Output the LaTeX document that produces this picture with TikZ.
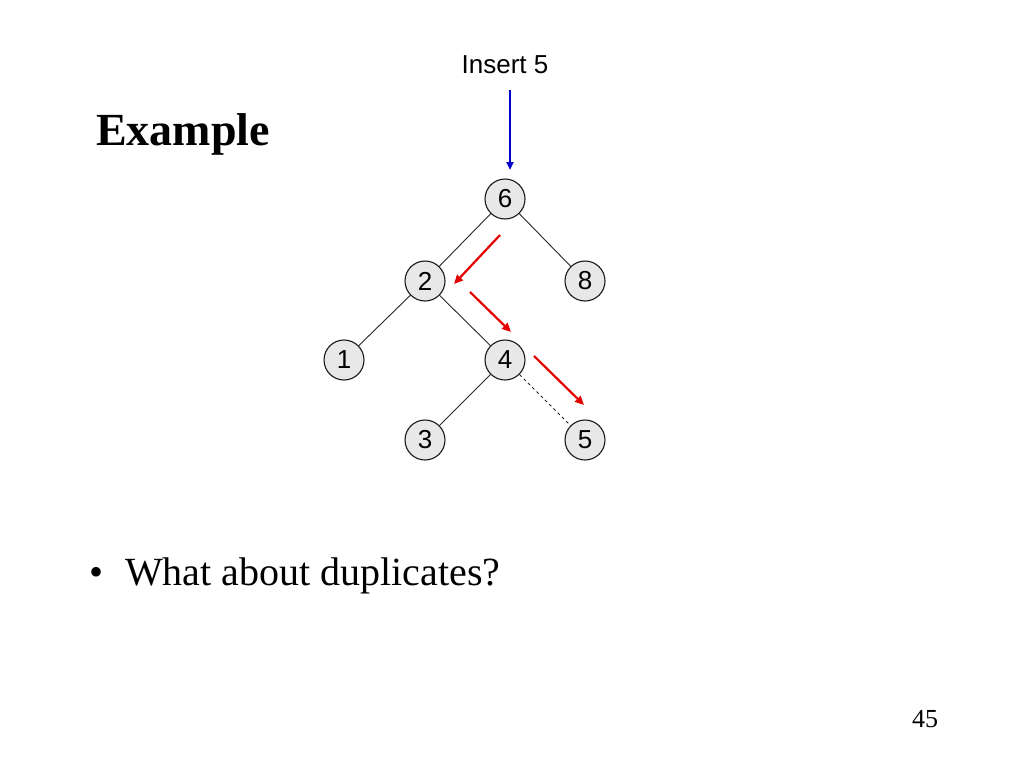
\documentclass[tikz,border=0pt]{standalone}
\usepackage{fontspec}
\setmainfont{Liberation Serif}
\newfontfamily\arial{Liberation Sans}
\usetikzlibrary{arrows.meta}
\begin{document}
\begin{tikzpicture}[x=1pt,y=-1pt,
  tnode/.style={circle,draw=black!90,fill=black!9,line width=1.1pt,minimum size=40pt,inner sep=0pt,font=\arial\fontsize{26}{28}\selectfont},
  tedge/.style={line width=0.9pt,draw=black!85},
  redarrow/.style={draw=red!90!black,line width=2.2pt,-{Triangle[length=9pt,width=8pt]}},
  bluearrow/.style={draw=blue!80!black,line width=2pt,-{Triangle[length=8pt,width=7pt]}}
]
\useasboundingbox (0,0) rectangle (1024,768);
\node (n6) [tnode] at (505,199) {6};
\node (n2) [tnode] at (425,281) {2};
\node (n8) [tnode] at (585,281) {8};
\node (n1) [tnode] at (344,360) {1};
\node (n4) [tnode] at (505,360) {4};
\node (n3) [tnode] at (425,440) {3};
\node (n5) [tnode] at (585,440) {5};
\draw[tedge] (n6) -- (n2);
\draw[tedge] (n6) -- (n8);
\draw[tedge] (n2) -- (n1);
\draw[tedge] (n2) -- (n4);
\draw[tedge] (n4) -- (n3);
\draw[tedge,dashed] (n4) -- (n5);
\node (ins) [font=\arial\fontsize{26}{28}\selectfont] at (505,65) {Insert 5};
\coordinate (b1) at (510,90);
\coordinate (b2) at (510,170);
\draw[bluearrow] (b1) -- (b2);
\coordinate (r1a) at (500,235);
\coordinate (r1b) at (454,284);
\coordinate (r2a) at (470,292);
\coordinate (r2b) at (511,332);
\coordinate (r3a) at (534,356);
\coordinate (r3b) at (584,405);
\draw[redarrow] (r1a) -- (r1b);
\draw[redarrow] (r2a) -- (r2b);
\draw[redarrow] (r3a) -- (r3b);
\node (title) [anchor=base west,inner sep=0pt,font=\bfseries\fontsize{46}{50}\selectfont] at (96,145) {Example};
\node (bul) [anchor=base west,inner sep=0pt,font=\fontsize{40}{44}\selectfont] at (89,585) {\textbullet};
\node (dup) [anchor=base west,inner sep=0pt,font=\fontsize{40}{44}\selectfont] at (125,585) {What about duplicates?};
\node (pg) [anchor=base,inner sep=0pt,font=\fontsize{26}{28}\selectfont] at (925,727) {45};
\end{tikzpicture}
\end{document}
